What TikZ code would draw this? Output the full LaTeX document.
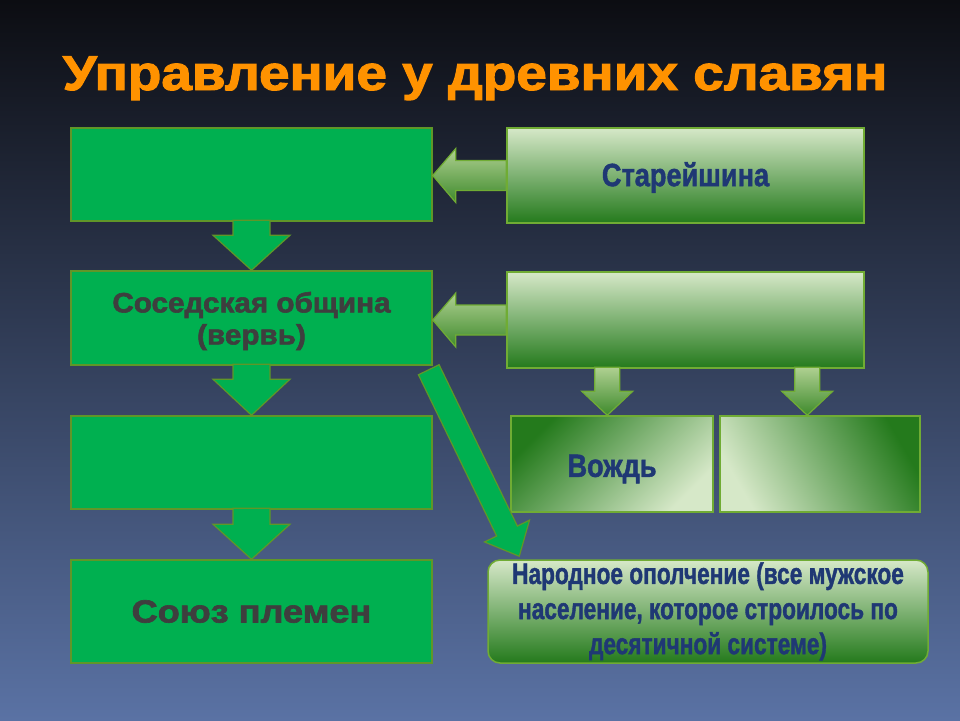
\documentclass[tikz,border=0pt]{standalone}
\usepackage{fontspec}
\usepackage{graphicx}
\setmainfont{Liberation Sans}
\newfontfamily\heavyfont[FakeBold=2]{Liberation Sans Bold}
\newfontfamily\impactfont[FakeBold=1.6]{Liberation Sans Bold}
\usetikzlibrary{calc}
\definecolor{bgtop}{RGB}{12,13,18}
\definecolor{bgbot}{RGB}{90,114,164}
\definecolor{lgreen}{RGB}{0,176,80}
\definecolor{lborder}{RGB}{96,150,40}
\definecolor{gdark}{RGB}{36,122,28}
\definecolor{glight}{RGB}{214,232,200}
\definecolor{gborder}{RGB}{112,172,52}
\definecolor{arrlight}{RGB}{175,208,145}
\definecolor{arrdark}{RGB}{62,138,44}
\definecolor{navy}{RGB}{31,56,116}
\definecolor{lefttext}{RGB}{62,62,62}
\definecolor{titleor}{RGB}{255,146,0}
\newcommand\blockarrow[6]{%
  \path[#6] let \p1=($(#2)-(#1)$), \n1={atan2(\y1,\x1)}, \n2={veclen(\x1,\y1)-#5} in
  ($(#1)+(\n1+90:#3)$) -- ($(#1)+(\n1:\n2)+(\n1+90:#3)$) --
  ($(#1)+(\n1:\n2)+(\n1+90:#4)$) -- (#2) --
  ($(#1)+(\n1:\n2)+(\n1-90:#4)$) -- ($(#1)+(\n1:\n2)+(\n1-90:#3)$) --
  ($(#1)+(\n1-90:#3)$) -- cycle;}
\newcommand\impact[2]{\scalebox{#1}[#2]}
\tikzset{
  leftbox/.style={draw=lborder, line width=1.5pt, fill=lgreen, minimum width=361pt,
    text=lefttext, align=center, inner sep=0pt},
  rightbox/.style={draw=gborder, line width=1.5pt, top color=glight, bottom color=gdark,
    minimum width=357pt, inner sep=0pt},
  chiefbox/.style={draw=gborder, line width=1.5pt, minimum height=96pt, inner sep=0pt},
  greenarrow/.style={draw=lborder, line width=1.2pt, fill=lgreen, line join=miter},
  lightarrow/.style={draw=gborder, line width=1.2pt, top color=arrlight, bottom color=arrdark, line join=miter},
  navytext/.style={text=navy, font=\impactfont},
}
\begin{document}
\begin{tikzpicture}[x=1pt,y=-1pt]
\useasboundingbox (0,0) rectangle (960,720);
\shade[top color=bgtop, bottom color=bgbot] (0,0) rectangle (960,720);

% title
\node[text=titleor, font=\heavyfont\fontsize{49}{56}\selectfont, anchor=base, inner sep=0pt] (title) at (475,90) {\impact{1.12}{1}{Управление у древних славян}};

% left column
\node[leftbox, minimum height=93pt] (L1) at (251.5,174.5) {};
\node[leftbox, minimum height=94pt] (L2) at (251.5,318) {};
\node[font=\heavyfont\fontsize{28}{32}\selectfont, text=lefttext, inner sep=0pt] (L2t) at ([yshift=-4pt]L2.center) {\impact{1.06}{1}{\begin{tabular}{@{}c@{}}Соседская община\\(вервь)\end{tabular}}};
\node[leftbox, minimum height=93pt] (L3) at (251.5,462.5) {};
\node[leftbox, minimum height=103pt, font=\heavyfont\fontsize{32}{36}\selectfont] (L4) at (251.5,611.5) {\impact{1.13}{1}{Союз племен}};

\coordinate (a1s) at ([yshift=1.5pt]L1.south);
\coordinate (a2s) at ([yshift=1.5pt]L2.south);
\coordinate (a3s) at ([yshift=1.5pt]L3.south);
\blockarrow{a1s}{L2.north}{18.5pt}{38.5pt}{35pt}{greenarrow}
\blockarrow{a2s}{L3.north}{18.5pt}{38.5pt}{36pt}{greenarrow}
\blockarrow{a3s}{L4.north}{18.5pt}{38.5pt}{35pt}{greenarrow}

% right column
\node[rightbox, minimum height=95pt] (R1) at (685.5,175.5) {};
\node[navytext, inner sep=0pt] (R1t) at ([yshift=-2pt]R1.center) {\impact{0.97}{1.15}{\fontsize{28}{32}\selectfont Старейшина}};
\node[rightbox, minimum height=96pt] (R2) at (685.5,320) {};

\coordinate (h1) at (L1.east |- R1.west);
\coordinate (h2) at (L2.east |- R2.west);
\blockarrow{R1.west}{h1}{15pt}{27pt}{23pt}{lightarrow}
\blockarrow{R2.west}{h2}{15pt}{27pt}{23pt}{lightarrow}

\node[chiefbox, minimum width=202pt, top color=gdark, bottom color=glight, shading angle=45] (V1) at (612,464) {};
\node[navytext, inner sep=0pt] (V1t) at ([yshift=-5pt]V1.center) {\impact{0.97}{1.15}{\fontsize{28}{32}\selectfont Вождь}};
\node[chiefbox, minimum width=200pt, top color=gdark, bottom color=glight, shading angle=-60] (V2) at (820,464) {};

\coordinate (s1) at ($(R2.south west)+(101,-1.5)$);
\coordinate (s2) at ($(R2.south west)+(301,-1.5)$);
\coordinate (t1) at (s1 |- V1.north);
\coordinate (t2) at (s2 |- V2.north);
\blockarrow{s1}{t1}{12.5pt}{25.5pt}{24pt}{lightarrow}
\blockarrow{s2}{t2}{12.5pt}{25.5pt}{24pt}{lightarrow}

% militia
\node[draw=gborder, line width=1.5pt, rounded corners=12pt, top color=glight, bottom color=gdark,
  minimum width=440pt, minimum height=103pt, inner sep=0pt] (N) at (708,611.5) {};
\node[navytext, inner sep=0pt] (Nt) at ([yshift=-0.5pt]N.center)
  {\impact{1.03}{1.35}{\fontsize{22}{26}\selectfont\begin{tabular}{@{}c@{}}Народное ополчение (все мужское\\население, которое строилось по\\десятичной системе)\end{tabular}}};

\coordinate (ds) at ($(L2.south east)+(-4,4)$);
\coordinate (dt) at ($(N.north west)+(32,-3)$);
\blockarrow{ds}{dt}{11.5pt}{25pt}{28pt}{greenarrow}
\end{tikzpicture}
\end{document}
